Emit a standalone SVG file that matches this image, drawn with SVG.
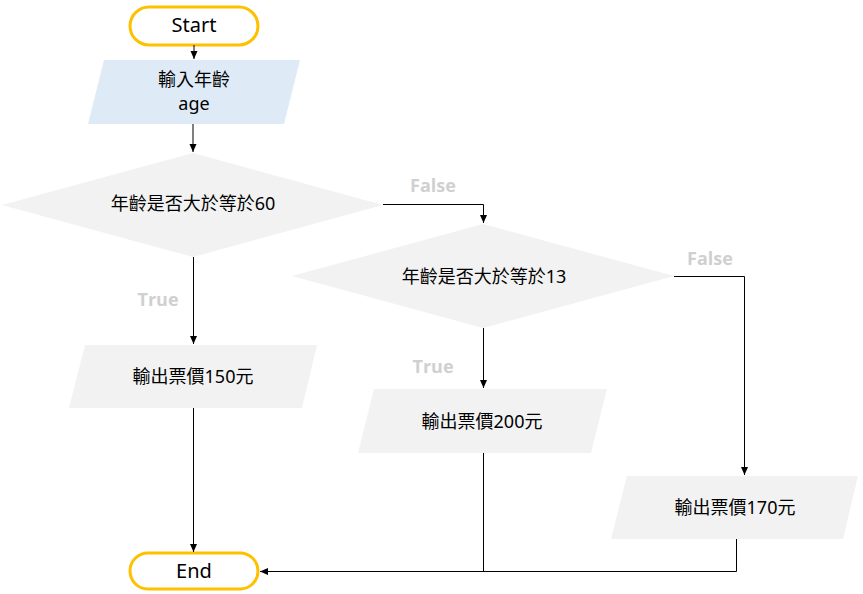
<svg xmlns="http://www.w3.org/2000/svg" width="863" height="594" viewBox="0 0 863 594">
<defs>
<marker id="arr" markerWidth="8" markerHeight="8" refX="8" refY="4" orient="auto" markerUnits="userSpaceOnUse">
<path d="M0,0.5 L8,4 L0,7.5 Z" fill="#000"/>
</marker>
</defs>
<style>
.t{font-family:"Noto Sans","Noto Sans CJK TC",sans-serif;font-size:18px;fill:#000;text-anchor:middle}
.term{fill:#fff;stroke:#FFC000;stroke-width:3}
.proc{fill:#F2F2F2}
.inp{fill:#DEEBF7}
.lbl{font-family:"Open Sans","Noto Sans",sans-serif;font-size:18px;font-weight:bold;fill:#D0D0D0;text-anchor:middle}
.c{fill:none;stroke:#000;stroke-width:1}
</style>
<rect width="863" height="594" fill="#fff"/>
<g id="start">
<rect class="term" x="130" y="7" width="128" height="38" rx="19"/>
<text class="t" x="194" y="32" style="font-size:20px">Start</text>
</g>
<g id="input">
<polygon class="inp" points="104,60 300,60 284,124 88,124"/>
<text class="t" x="194" y="86">輸入年齡</text>
<text class="t" x="194" y="110">age</text>
</g>
<g id="dec60">
<polygon class="proc" points="193,153 383,205 193,257 2,205"/>
<text class="t" x="193" y="210">年齡是否大於等於60</text>
</g>
<g id="dec13">
<polygon class="proc" points="483,224 674,276 483,328 292,276"/>
<text class="t" x="484" y="283">年齡是否大於等於13</text>
</g>
<g id="out150">
<polygon class="proc" points="85,345 317,345 302,408 69,408"/>
<text class="t" x="193" y="383">輸出票價150元</text>
</g>
<g id="out200">
<polygon class="proc" points="374,389 607,389 591,453 358,453"/>
<text class="t" x="482" y="428">輸出票價200元</text>
</g>
<g id="out170">
<polygon class="proc" points="627,476 858,476 843,539 611,539"/>
<text class="t" x="735" y="514">輸出票價170元</text>
</g>
<g id="end">
<rect class="term" x="130" y="553" width="128" height="36" rx="18"/>
<text class="t" x="194" y="578" style="font-size:20px">End</text>
</g>
<g id="connectors">
<path class="c" d="M194,45 L194,59" marker-end="url(#arr)"/>
<path class="c" d="M193,124 L193,152" marker-end="url(#arr)"/>
<path class="c" d="M383,204.5 L483.5,204.5 L483.5,223" marker-end="url(#arr)"/>
<path class="c" d="M193.5,257 L193.5,344" marker-end="url(#arr)"/>
<path class="c" d="M483.5,328 L483.5,388" marker-end="url(#arr)"/>
<path class="c" d="M674,276.5 L744.5,276.5 L744.5,475" marker-end="url(#arr)"/>
<path class="c" d="M193.5,408 L193.5,552" marker-end="url(#arr)"/>
<path class="c" d="M483.5,453 L483.5,571.5"/>
<path class="c" d="M736.5,539 L736.5,571.5 L260,571.5" marker-end="url(#arr)"/>
<text class="lbl" x="433" y="192">False</text>
<text class="lbl" x="710" y="265">False</text>
<text class="lbl" x="158" y="306">True</text>
<text class="lbl" x="433" y="373">True</text>
</g>
</svg>
